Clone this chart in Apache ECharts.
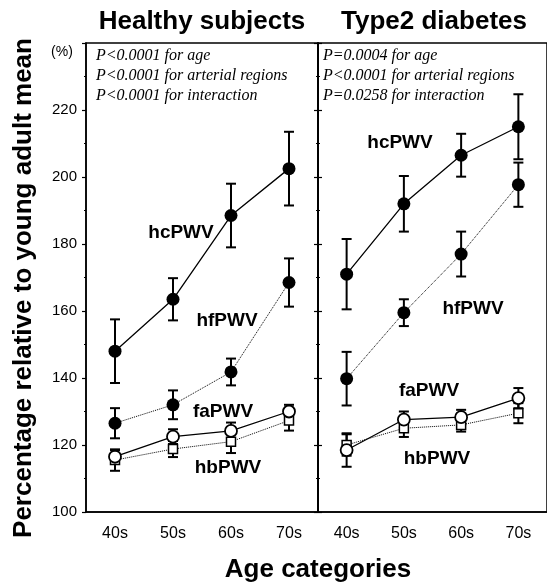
<!DOCTYPE html>
<html>
<head>
<meta charset="utf-8">
<script src="https://cdn.jsdelivr.net/npm/echarts@6/dist/echarts.min.js"></script>
<style>
  html, body { margin: 0; padding: 0; background: #fff; }
  #chart { width: 547px; height: 585px; }
</style>
</head>
<body>
<div id="chart"></div>
<script>
// age groups on the x axis
var ageCats = ['40s', '50s', '60s', '70s'];
var yTicks = [100, 120, 140, 160, 180, 200, 220];

// Healthy subjects: means and error (+/-)
var healthyHc = [148, 163.5, 188.5, 202.5];
var healthyHcErr = [9.5, 6.3, 9.5, 11];
var healthyHf = [126.5, 132, 141.8, 168.5];
var healthyHfErr = [4.5, 4.3, 4, 7.2];
var healthyFa = [116.5, 122.5, 124.2, 130];
var healthyFaErr = [2, 2.2, 2.5, 2];
var healthyHb = [115.5, 118.8, 121, 127.3];
var healthyHbErr = [3.2, 2.4, 3.4, 3];

// Type2 diabetes
var diabHc = [171, 192, 206.5, 215];
var diabHcErr = [10.5, 8.3, 6.4, 9.7];
var diabHf = [139.8, 159.5, 177, 197.7];
var diabHfErr = [8, 4, 6.7, 6.6];
var diabFa = [118.5, 127.6, 128.3, 134];
var diabFaErr = [5, 2.4, 2.2, 3];
var diabHb = [120, 125, 126, 129.5];
var diabHbErr = [3.2, 2.6, 2, 3];

var chart = echarts.init(document.getElementById('chart'));
var sans = 'Liberation Sans, Arial, sans-serif';
var serif = 'Liberation Serif, Times New Roman, serif';

function errData(mean, err) {
  return mean.map(function (m, i) { return [i, m - err[i], m + err[i]]; });
}

function renderErr(params, api) {
  var x = api.value(0);
  var lo = api.coord([x, api.value(1)]);
  var hi = api.coord([x, api.value(2)]);
  var w = 5;
  var st = { stroke: '#000', lineWidth: 2 };
  return {
    type: 'group',
    children: [
      { type: 'line', shape: { x1: lo[0], y1: lo[1], x2: hi[0], y2: hi[1] }, style: st },
      { type: 'line', shape: { x1: lo[0] - w, y1: lo[1], x2: lo[0] + w, y2: lo[1] }, style: st },
      { type: 'line', shape: { x1: hi[0] - w, y1: hi[1], x2: hi[0] + w, y2: hi[1] }, style: st }
    ]
  };
}

function errSeries(mean, err, idx) {
  return {
    type: 'custom',
    xAxisIndex: idx, yAxisIndex: idx === 0 ? 0 : 2,
    renderItem: renderErr,
    data: errData(mean, err),
    z: 2,
    silent: true
  };
}

function lineSeries(name, data, idx, kind) {
  var dotted = (kind === 'hf' || kind === 'hb');
  var s = {
    name: name,
    type: 'line',
    xAxisIndex: idx, yAxisIndex: idx === 0 ? 0 : 2,
    data: data,
    z: 3,
    silent: true,
    lineStyle: { color: '#000', width: dotted ? 1 : 1.3, type: dotted ? 'dotted' : 'solid' }
  };
  if (kind === 'hc' || kind === 'hf') {
    s.symbol = 'circle'; s.symbolSize = 13;
    s.itemStyle = { color: '#000', borderColor: '#000', borderWidth: 0 };
  } else if (kind === 'fa') {
    s.symbol = 'circle'; s.symbolSize = 12;
    s.itemStyle = { color: '#fff', borderColor: '#000', borderWidth: 1.8 };
  } else {
    s.symbol = 'rect'; s.symbolSize = 9;
    s.itemStyle = { color: '#fff', borderColor: '#000', borderWidth: 1.5 };
  }
  return s;
}

function xAx(idx) {
  return {
    type: 'category', gridIndex: idx, data: ageCats,
    axisLine: { lineStyle: { color: '#000', width: 1.5 } },
    axisTick: { alignWithLabel: true, length: 4, lineStyle: { color: '#000', width: 1.5 } },
    axisLabel: { color: '#000', fontSize: 16, fontFamily: sans, margin: 14 }
  };
}

function yAx(idx, pos, labels, inside) {
  return {
    type: 'value', gridIndex: idx, position: pos,
    min: 100, max: 240, interval: 20,
    splitLine: { show: false },
    axisLine: { show: true, lineStyle: { color: '#000', width: 1.5 } },
    axisTick: { show: true, inside: inside, length: 4, lineStyle: { color: '#000', width: 1.2 } },
    minorTick: { show: true, splitNumber: 2, length: 2, lineStyle: { color: '#000' } },
    axisLabel: {
      show: labels, color: '#000', fontSize: 15, fontFamily: sans, margin: 9,
      formatter: function (v) { return yTicks.indexOf(v) >= 0 ? String(v) : ''; }
    }
  };
}

function pText(text, x, y) {
  return {
    type: 'text', x: x, y: y,
    style: { text: text, fontSize: 16, fontStyle: 'italic', fontFamily: serif, fill: '#000',
      textVerticalAlign: 'middle' }
  };
}

function boldTitle(text, x, y, rot) {
  return {
    type: 'text', x: x, y: y, rotation: rot || 0,
    style: { text: text, fontSize: 26, fontWeight: 'bold', fontFamily: sans, fill: '#000',
      textAlign: 'center', textVerticalAlign: 'middle' }
  };
}

function boldLabel(text, x, y) {
  return {
    type: 'text', x: x, y: y,
    style: { text: text, fontSize: 19, fontWeight: 'bold', fontFamily: sans, fill: '#000',
      textAlign: 'center', textVerticalAlign: 'middle' }
  };
}

var option = {
  animation: false,
  backgroundColor: '#fff',
  grid: [
    { left: 86, top: 43, width: 232, height: 469, show: true, borderColor: '#000', borderWidth: 1.5 },
    { left: 318, top: 43, width: 229, height: 469, show: true, borderColor: '#000', borderWidth: 1.5 }
  ],
  xAxis: [xAx(0), xAx(1)],
  yAxis: [yAx(0, 'left', true, false), yAx(0, 'right', false, true), yAx(1, 'left', false, true)],
  series: [
    errSeries(healthyHc, healthyHcErr, 0),
    errSeries(healthyHf, healthyHfErr, 0),
    errSeries(healthyHb, healthyHbErr, 0),
    errSeries(healthyFa, healthyFaErr, 0),
    lineSeries('hcPWV', healthyHc, 0, 'hc'),
    lineSeries('hfPWV', healthyHf, 0, 'hf'),
    lineSeries('hbPWV', healthyHb, 0, 'hb'),
    lineSeries('faPWV', healthyFa, 0, 'fa'),
    errSeries(diabHc, diabHcErr, 1),
    errSeries(diabHf, diabHfErr, 1),
    errSeries(diabHb, diabHbErr, 1),
    errSeries(diabFa, diabFaErr, 1),
    lineSeries('hcPWV', diabHc, 1, 'hc'),
    lineSeries('hfPWV', diabHf, 1, 'hf'),
    lineSeries('hbPWV', diabHb, 1, 'hb'),
    lineSeries('faPWV', diabFa, 1, 'fa')
  ],
  graphic: [
    boldTitle('Healthy subjects', 202, 22),
    boldTitle('Type2 diabetes', 434, 22),
    boldTitle('Age categories', 318, 570),
    boldTitle('Percentage relative to young adult mean', 24, 288, Math.PI / 2),
    {
      type: 'text', x: 62, y: 52,
      style: { text: '(%)', fontSize: 14, fontFamily: sans, fill: '#000',
        textAlign: 'center', textVerticalAlign: 'middle' }
    },
    pText('P<0.0001 for age', 96, 56),
    pText('P<0.0001 for arterial regions', 96, 76),
    pText('P<0.0001 for interaction', 96, 96),
    pText('P=0.0004 for age', 323, 56),
    pText('P<0.0001 for arterial regions', 323, 76),
    pText('P=0.0258 for interaction', 323, 96),
    boldLabel('hcPWV', 181, 233), boldLabel('hfPWV', 227, 321),
    boldLabel('faPWV', 223, 412), boldLabel('hbPWV', 228, 468),
    boldLabel('hcPWV', 400, 143), boldLabel('hfPWV', 473, 309),
    boldLabel('faPWV', 429, 391), boldLabel('hbPWV', 437, 459)
  ]
};

option && chart.setOption(option);
window.addEventListener('resize', function () { chart.resize(); });
</script>
</body>
</html>
